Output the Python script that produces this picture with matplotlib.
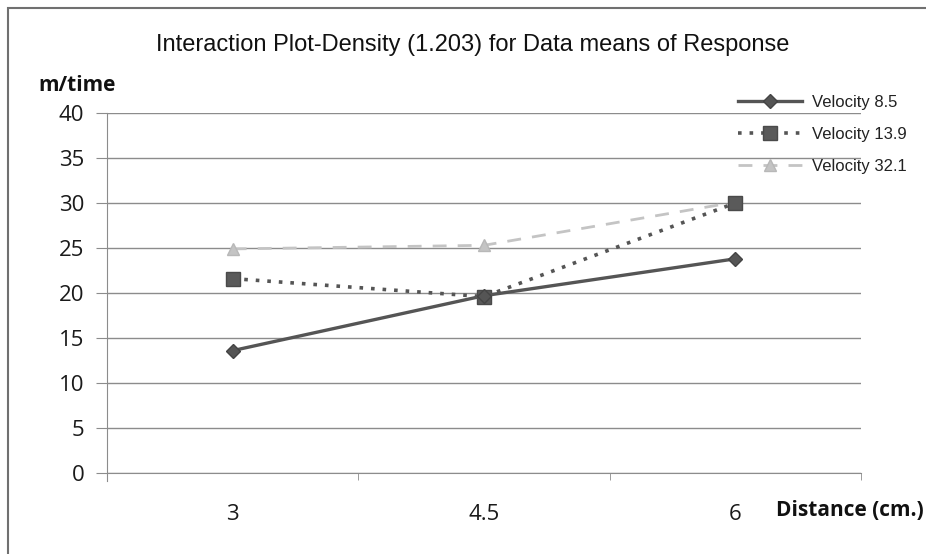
import numpy as np
import matplotlib.pyplot as plt
from matplotlib.patches import Rectangle

# interaction plot: mean response by distance for each velocity level
distance = ['3', '4.5', '6']
velocity_labels = ['Velocity 8.5', 'Velocity 13.9', 'Velocity 32.1']
v_85 = [13.6, 19.7, 23.8]
v_139 = [21.6, 19.6, 30.0]
v_321 = [24.9, 25.3, 30.1]
y_ticks = [0, 5, 10, 15, 20, 25, 30, 35, 40]

fig = plt.figure(figsize=(9.26, 5.54), dpi=100)
ax = fig.add_axes([0.1156, 0.1462, 0.8142, 0.6498])

# outer chart frame
fig.patches.append(Rectangle((0.009, -0.05), 1.1, 1.036, transform=fig.transFigure,
                             fill=False, edgecolor='#707070', linewidth=1.5))

x = np.arange(len(distance))
ax.plot(x, v_321, linestyle=(0, (5, 4)), linewidth=2, color='#c4c4c4', marker='^',
        markersize=9, markerfacecolor='#c4c4c4', markeredgecolor='#b8b8b8',
        label=velocity_labels[2], zorder=3)
ax.plot(x, v_139, linestyle=(0, (1, 2.2)), linewidth=2.6, color='#555555', marker='s',
        markersize=10, markerfacecolor='#5a5a5a', markeredgecolor='#4a4a4a',
        label=velocity_labels[1], zorder=4)
ax.plot(x, v_85, linestyle='-', linewidth=2.4, color='#555555', marker='D',
        markersize=7, markerfacecolor='#555555', markeredgecolor='#444444',
        label=velocity_labels[0], zorder=5)

ax.set_xlim(-0.5, 2.5)
ax.set_ylim(0, 40)
ax.set_yticks(y_ticks)
ax.set_xticks(x)
ax.set_xticklabels(distance)
ax.set_xticks([-0.5, 0.5, 1.5, 2.5], minor=True)

ax.grid(axis='y', color='#8c8c8c', linewidth=1.0)
ax.set_axisbelow(True)
for side in ['top', 'right']:
    ax.spines[side].set_visible(False)
ax.spines['bottom'].set_color('#8c8c8c')
ax.spines['left'].set_color('#8c8c8c')
ax.spines['left'].set_bounds(-0.9, 40)
ax.spines['left'].set_clip_on(False)

ax.tick_params(axis='y', length=8, color='#8c8c8c', pad=8.5, labelsize=16,
               labelcolor='#1a1a1a', labelfontfamily='Open Sans')
ax.tick_params(axis='x', which='major', length=0, pad=22, labelsize=16,
               labelcolor='#1a1a1a', labelfontfamily='Open Sans')
ax.tick_params(axis='x', which='minor', length=5, color='#8c8c8c')

fig.text(0.510, 0.919, 'Interaction Plot-Density (1.203) for Data means of Response',
         ha='center', va='center', fontsize=17, family='Liberation Sans', color='#111111')
fig.text(0.041, 0.846, 'm/time', ha='left', va='center', fontsize=15,
         fontweight='bold', family='Open Sans', color='#111111')
fig.text(0.838, 0.079, 'Distance (cm.)', ha='left', va='center', fontsize=15,
         fontweight='bold', family='Open Sans', color='#111111')

handles, labels = ax.get_legend_handles_labels()
leg = fig.legend(handles[::-1], labels[::-1], loc='upper left',
                 bbox_to_anchor=(0.781, 0.855), frameon=False,
                 prop={'family': 'Liberation Sans', 'size': 12},
                 handlelength=3.8, handletextpad=0.6, labelspacing=1.0)
for t in leg.get_texts():
    t.set_color('#222222')

fig.savefig('out.png', dpi=100)
